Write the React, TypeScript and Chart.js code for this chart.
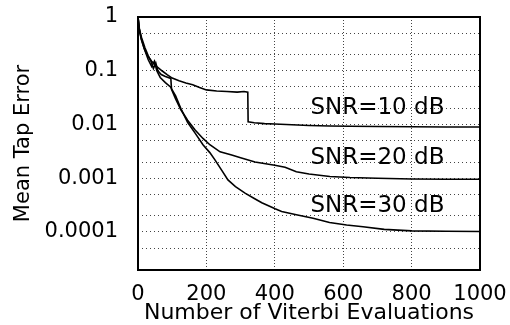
import React, { useEffect, useRef } from 'react';
import { Chart, registerables } from 'chart.js';

Chart.register(...registerables);

// ---- data ----
const X_TICKS = [0, 200, 400, 600, 800, 1000];
const Y_GRID = [2e-5, 5e-5, 1e-4, 2e-4, 5e-4, 1e-3, 2e-3, 5e-3, 1e-2, 2e-2, 5e-2, 0.1, 0.2, 0.5, 1];
const Y_LABELED = [1, 0.1, 0.01, 0.001, 0.0001];
const Y_MIN = 1.963e-5;
const Y_MAX = 1;

const SNR10_X = [0, 4, 10, 18, 28, 40, 55, 70, 85, 100, 120, 140, 160, 180, 200, 230, 260, 290, 310, 321, 322, 340, 370, 400, 450, 500, 560, 620, 700, 800, 900, 1000];
const SNR10_Y = [1, 0.6, 0.38, 0.26, 0.19, 0.15, 0.12, 0.1, 0.085, 0.073, 0.065, 0.059, 0.055, 0.049, 0.044, 0.042, 0.041, 0.04, 0.041, 0.04, 0.0112, 0.0108, 0.0104, 0.0102, 0.0099, 0.0096, 0.0094, 0.0093, 0.0092, 0.0091, 0.009, 0.009];

const SNR20_X = [0, 4, 10, 20, 30, 38, 45, 52, 58, 68, 80, 96, 98, 110, 125, 145, 167, 190, 210, 240, 274, 300, 342, 400, 430, 463, 500, 561, 620, 700, 800, 900, 1000];
const SNR20_Y = [1, 0.6, 0.42, 0.27, 0.19, 0.15, 0.11, 0.14, 0.1, 0.085, 0.078, 0.072, 0.045, 0.03, 0.019, 0.012, 0.0079, 0.0055, 0.0042, 0.0031, 0.0027, 0.0024, 0.002, 0.00175, 0.0016, 0.00132, 0.0012, 0.00108, 0.00103, 0.001, 0.00097, 0.00096, 0.00096];

const SNR30_X = [0, 4, 10, 20, 30, 40, 48, 55, 65, 80, 95, 110, 125, 145, 167, 190, 210, 225, 245, 263, 285, 313, 340, 362, 401, 420, 463, 512, 560, 610, 658, 720, 800, 900, 1000];
const SNR30_Y = [1, 0.55, 0.38, 0.24, 0.16, 0.12, 0.15, 0.1, 0.075, 0.06, 0.05, 0.034, 0.02, 0.011, 0.0069, 0.0042, 0.003, 0.0022, 0.0014, 0.00093, 0.0007, 0.00053, 0.00042, 0.00035, 0.00027, 0.00024, 0.00021, 0.00018, 0.00015, 0.000135, 0.000125, 0.000112, 0.000105, 0.000103, 0.000102];

const CURVE_LABELS = ['SNR=10 dB', 'SNR=20 dB', 'SNR=30 dB'];
const CURVE_LABEL_X = [700, 700, 700];
const CURVE_LABEL_Y = [0.0203, 0.00238, 0.000305];

const FONT = '"DejaVu Sans", sans-serif';

const toPoints = (xs: number[], ys: number[]) => xs.map((x, i) => ({ x, y: ys[i] }));

const framePlugin = {
  id: 'frameAndLabels',
  afterDraw(chart: any) {
    const { ctx, chartArea: a, scales } = chart;
    ctx.save();
    ctx.strokeStyle = '#000';
    ctx.lineWidth = 2;
    ctx.strokeRect(a.left, a.top, a.right - a.left, a.bottom - a.top);
    ctx.fillStyle = '#000';
    ctx.font = `23px ${FONT}`;
    ctx.textAlign = 'center';
    ctx.textBaseline = 'middle';
    CURVE_LABELS.forEach((t, i) => {
      ctx.fillText(t, scales.x.getPixelForValue(CURVE_LABEL_X[i]), scales.y.getPixelForValue(CURVE_LABEL_Y[i]));
    });
    ctx.restore();
  },
};

export default function App() {
  const ref = useRef<HTMLCanvasElement | null>(null);

  useEffect(() => {
    if (!ref.current) return;
    const lineStyle = { borderColor: '#000', borderWidth: 1.6, pointRadius: 0, fill: false, tension: 0 };
    const chart = new Chart(ref.current, {
      type: 'line',
      data: {
        datasets: [
          { label: 'SNR=10 dB', data: toPoints(SNR10_X, SNR10_Y), ...lineStyle },
          { label: 'SNR=20 dB', data: toPoints(SNR20_X, SNR20_Y), ...lineStyle },
          { label: 'SNR=30 dB', data: toPoints(SNR30_X, SNR30_Y), ...lineStyle },
        ],
      },
      options: {
        animation: false,
        responsive: false,
        devicePixelRatio: 1,
        layout: { padding: { top: 17, right: 30, left: 0, bottom: 0 } },
        plugins: { legend: { display: false }, tooltip: { enabled: false } },
        scales: {
          x: {
            type: 'linear',
            min: 0,
            max: 1000,
            afterBuildTicks: (s: any) => {
              s.ticks = X_TICKS.map((v) => ({ value: v }));
            },
            afterFit: (s: any) => {
              s.height = 55;
              s.paddingLeft = 0;
              s.paddingRight = 0;
            },
            grid: { color: '#444', lineWidth: 1, drawTicks: false },
            border: { display: false, dash: [1, 2] },
            ticks: {
              autoSkip: false,
              maxRotation: 0,
              padding: 14,
              color: '#000',
              font: { family: FONT, size: 21, lineHeight: 1 },
              callback: (v: any) => String(v),
            },
            title: {
              display: true,
              text: 'Number of Viterbi Evaluations',
              color: '#000',
              font: { family: FONT, size: 22, lineHeight: 1 },
              padding: { top: 0, bottom: 1 },
            },
          },
          y: {
            type: 'logarithmic',
            min: Y_MIN,
            max: Y_MAX,
            afterBuildTicks: (s: any) => {
              s.ticks = Y_GRID.map((v) => ({ value: v }));
            },
            afterFit: (s: any) => {
              s.width = 138;
              s.paddingTop = 0;
              s.paddingBottom = 0;
            },
            grid: { color: '#444', lineWidth: 1, drawTicks: false },
            border: { display: false, dash: [1, 3] },
            ticks: {
              autoSkip: false,
              padding: 20,
              color: '#000',
              font: { family: FONT, size: 21, lineHeight: 1 },
              callback: (v: any) => (Y_LABELED.includes(v) ? String(v) : ''),
            },
            title: {
              display: true,
              text: 'Mean Tap Error',
              color: '#000',
              font: { family: FONT, size: 21, lineHeight: 1 },
              padding: { top: 13, bottom: 0 },
            },
          },
        },
      },
      plugins: [framePlugin],
    } as any);
    return () => chart.destroy();
  }, []);

  return (
    <div style={{ position: 'fixed', left: 0, top: 0, width: 510, height: 325, background: '#fff' }}>
      <canvas ref={ref} width={510} height={325} style={{ display: 'block' }} />
    </div>
  );
}
